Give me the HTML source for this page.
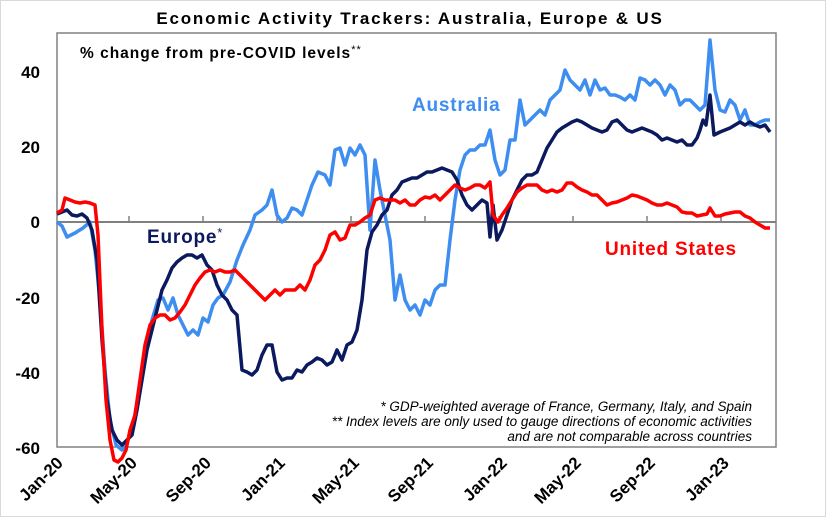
<!DOCTYPE html>
<html><head><meta charset="utf-8"><style>
body{margin:0;background:#fff}
svg{display:block;font-family:"Liberation Sans",Arial,sans-serif}
</style></head><body>
<svg width="826" height="517" viewBox="0 0 826 517" xmlns="http://www.w3.org/2000/svg">
<rect x="0.5" y="0.5" width="825" height="516" fill="#fff" stroke="#d9d9d9"/>
<text x="410" y="24" text-anchor="middle" font-size="17" font-weight="bold" letter-spacing="1.8">Economic Activity Trackers: Australia, Europe &amp; US</text>
<rect x="57" y="33" width="719" height="414" fill="none" stroke="#808080" stroke-width="1.5"/>
<line x1="57" y1="222" x2="776" y2="222" stroke="#808080" stroke-width="2"/>
<g stroke="#808080" stroke-width="1.5">
<line x1="129" y1="222" x2="129" y2="216"/><line x1="203" y1="222" x2="203" y2="216"/><line x1="277" y1="222" x2="277" y2="216"/><line x1="351" y1="222" x2="351" y2="216"/><line x1="425" y1="222" x2="425" y2="216"/><line x1="499" y1="222" x2="499" y2="216"/><line x1="573" y1="222" x2="573" y2="216"/><line x1="647" y1="222" x2="647" y2="216"/><line x1="721" y1="222" x2="721" y2="216"/>
</g>
<g font-size="17" font-weight="bold" text-anchor="end">
<text x="40" y="78">40</text><text x="40" y="153">20</text><text x="40" y="228">0</text><text x="40" y="304">-20</text><text x="40" y="379">-40</text><text x="40" y="454">-60</text>
</g>
<g font-size="17" font-weight="bold" text-anchor="end">
<text transform="translate(64,464) rotate(-45)">Jan-20</text>
<text transform="translate(138,464) rotate(-45)">May-20</text>
<text transform="translate(212,464) rotate(-45)">Sep-20</text>
<text transform="translate(286,464) rotate(-45)">Jan-21</text>
<text transform="translate(360,464) rotate(-45)">May-21</text>
<text transform="translate(434,464) rotate(-45)">Sep-21</text>
<text transform="translate(508,464) rotate(-45)">Jan-22</text>
<text transform="translate(582,464) rotate(-45)">May-22</text>
<text transform="translate(656,464) rotate(-45)">Sep-22</text>
<text transform="translate(730,464) rotate(-45)">Jan-23</text>
</g>
<text x="80" y="58" font-size="15.5" font-weight="bold" letter-spacing="1">% change from pre-COVID levels<tspan font-size="11" dy="-5" font-weight="normal">**</tspan></text>
<g font-size="13.5" font-style="italic" text-anchor="end">
<text x="752" y="411">* GDP-weighted average of France, Germany, Italy, and Spain</text>
<text x="752" y="426">** Index levels are only used to gauge directions of economic activities</text>
<text x="752" y="441">and are not comparable across countries</text>
</g>
<g fill="none" stroke-width="3.5" stroke-linejoin="round">
<polyline stroke="#3d8ef0" points="57,222 62,226 67,237 75,233 83,228 90,222 95,250 100,300 105,370 110,420 116,445 122,450 128,440 134,420 140,385 146,350 152,320 158,300 163,298 168,310 173,298 178,315 183,325 188,335 193,330 198,335 203,318 208,322 213,305 218,298 223,295 230,282 237,260 243,245 250,230 255,215 262,210 267,205 272,190 277,215 282,222 287,218 292,208 297,210 302,215 307,200 312,185 318,172 325,175 330,185 335,150 340,148 345,165 350,148 355,155 360,145 365,155 370,230 375,160 380,190 385,215 390,240 395,300 400,275 405,300 410,310 415,305 420,315 425,300 430,305 435,290 440,285 445,285 450,240 455,200 460,170 465,155 470,150 475,150 480,145 485,145 490,130 495,160 500,175 505,170 510,140 515,140 520,100 525,125 530,120 535,115 540,110 545,115 550,100 555,95 560,90 565,70 570,80 575,85 580,90 585,80 590,95 595,80 600,90 605,88 610,95 615,95 620,97 625,100 630,95 635,100 640,78 645,80 650,85 655,80 660,85 665,95 670,85 675,90 680,105 685,100 690,100 695,105 700,110 705,105 710,40 715,90 720,110 725,112 730,100 735,105 740,120 745,110 750,125 755,125 760,122 765,120 770,120"/>
<polyline stroke="#0b1a5e" points="57,214 62,212 67,210 72,215 77,216 82,214 87,218 92,230 97,260 102,340 107,400 112,430 117,440 122,445 127,440 132,435 137,410 142,380 147,350 152,330 157,310 162,290 167,280 172,268 177,262 182,258 187,255 192,255 197,258 202,255 207,265 212,270 217,285 222,295 227,300 232,310 237,315 242,370 247,372 252,375 257,370 262,355 267,345 272,345 277,372 282,380 287,378 292,378 297,370 302,372 307,365 312,362 317,358 322,360 327,365 332,362 337,350 342,360 347,345 352,342 357,330 362,300 367,250 372,232 377,225 382,215 387,210 392,195 397,190 402,182 407,180 412,178 417,178 422,175 427,172 432,172 437,170 442,168 447,170 452,172 457,180 462,195 467,205 472,210 477,205 482,200 487,203 490,237 493,205 497,240 502,230 507,215 512,200 517,190 522,180 527,175 532,175 537,172 542,160 547,148 552,140 557,132 562,128 567,125 572,122 577,120 582,122 587,125 592,128 597,130 602,132 607,130 612,122 617,120 622,125 627,130 632,132 637,130 642,128 647,130 652,132 657,135 662,140 667,138 672,140 677,142 682,140 687,145 692,145 697,138 700,130 703,120 706,125 710,95 714,135 720,132 725,130 730,128 735,125 740,122 745,125 750,122 755,125 760,127 765,125 770,132"/>
<polyline stroke="#ff0000" points="57,213 62,210 65,198 70,200 75,202 80,203 85,202 90,203 95,205 98,235 102,330 106,400 110,440 114,460 118,462 122,458 126,450 130,430 135,415 140,380 145,345 150,325 155,318 160,315 165,315 170,320 175,318 180,312 185,305 190,295 195,285 200,278 205,272 210,270 215,272 220,270 225,272 230,272 235,270 240,275 245,280 250,285 255,290 260,295 265,300 270,295 275,290 280,295 285,290 290,290 295,290 300,285 305,290 310,280 315,265 320,260 325,250 330,235 335,232 340,240 345,238 350,225 355,225 360,222 365,218 370,215 375,200 380,198 385,200 390,200 395,200 400,203 405,200 410,205 415,205 420,200 425,197 430,198 435,195 440,200 445,195 450,190 455,185 460,188 465,190 470,188 475,185 480,185 485,188 490,182 493,215 498,222 502,215 507,208 512,200 517,192 522,188 527,185 532,185 537,185 542,190 547,192 552,190 557,192 562,190 567,183 572,183 577,187 582,190 587,192 592,195 597,195 602,200 607,205 612,203 617,202 622,200 627,198 632,195 637,196 642,198 647,200 652,203 657,205 662,205 667,203 672,205 677,207 682,212 687,213 692,213 697,216 702,215 707,214 710,208 715,216 720,216 725,214 730,213 735,212 740,212 745,216 750,218 755,222 760,225 765,228 770,228"/>
</g>
<text x="412" y="111" font-size="19" font-weight="bold" fill="#3d8ef0" letter-spacing="0.8">Australia</text>
<text x="147" y="243" font-size="19" font-weight="bold" fill="#0b1a5e" letter-spacing="0.8">Europe<tspan font-size="13" dy="-6" font-weight="normal">*</tspan></text>
<text x="605" y="255" font-size="19" font-weight="bold" fill="#ff0000" letter-spacing="0.8">United States</text>
</svg>
</body></html>
